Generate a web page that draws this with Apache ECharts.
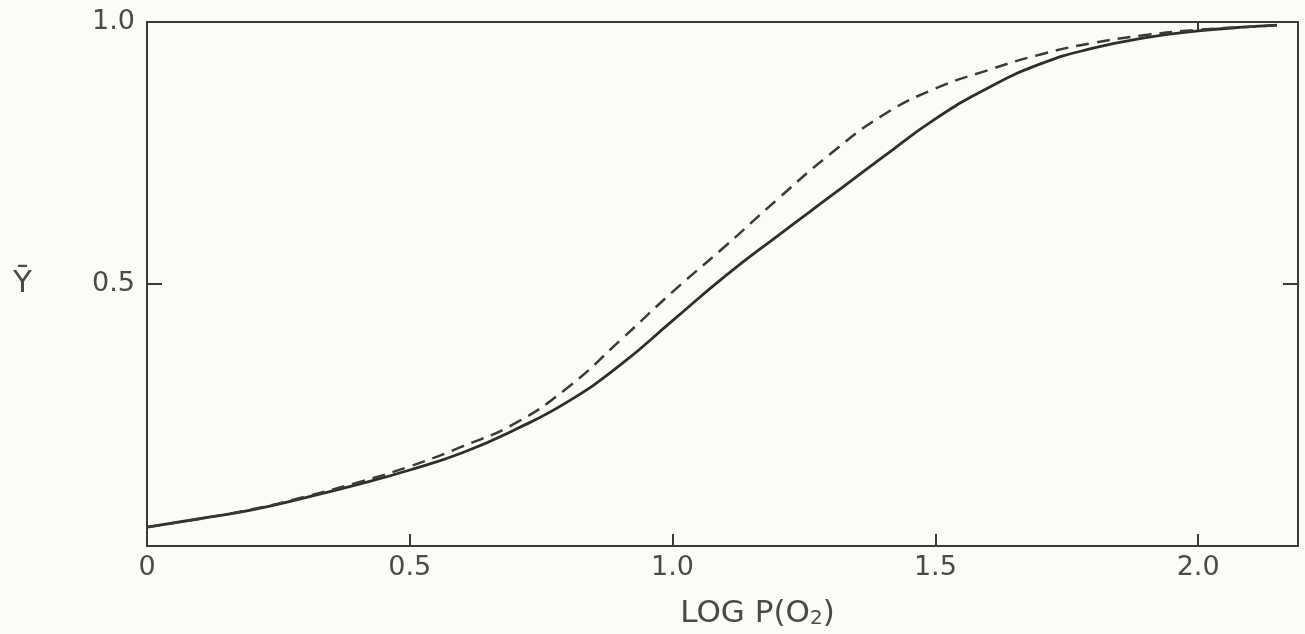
<!DOCTYPE html>
<html lang="en">
<head>
    <meta charset="UTF-8">
    <title>Y vs log P(O2)</title>
    <script src="https://cdn.jsdelivr.net/npm/echarts@6/dist/echarts.min.js"></script>
</head>
<body style="margin:0;background:#fcfbf6;overflow:hidden">

<div id="main" style="width: 100vw;height: 100vh"></div>

<script type="text/javascript">
    // log P(O2)
    var logP = [0, 0.1, 0.2, 0.3, 0.4, 0.5, 0.6, 0.7, 0.8, 0.9, 1.0, 1.1,
        1.2, 1.3, 1.4, 1.5, 1.6, 1.7, 1.8, 1.9, 2.0, 2.1, 2.15];
    // solid curve
    var ySolid = [0.036, 0.052, 0.069, 0.092, 0.117, 0.145, 0.178, 0.222, 0.275, 0.345, 0.43, 0.515,
        0.592, 0.667, 0.742, 0.815, 0.874, 0.920, 0.950, 0.970, 0.983, 0.991, 0.994];
    // dashed curve
    var yDashed = [0.036, 0.052, 0.070, 0.094, 0.121, 0.152, 0.190, 0.234, 0.302, 0.392, 0.485, 0.572,
        0.662, 0.748, 0.822, 0.873, 0.908, 0.938, 0.960, 0.975, 0.985, 0.991, 0.994];
    var xTicks = [0, 0.5, 1.0, 1.5, 2.0];
    var yTicks = [0.5, 1.0];

    function pairs(xs, ys) {
        return xs.map(function (x, i) { return [x, ys[i]]; });
    }

    var ink = '#3a3a3a';
    var font = 'DejaVu Sans';

    var myChart = echarts.init(document.getElementById('main'));

    var option = {
        backgroundColor: '#fcfbf6',
        animation: false,
        grid: {left: 147, right: 7, top: 22, bottom: 87},
        xAxis: [{
            type: 'value',
            min: 0,
            max: 2.19,
            interval: 0.5,
            splitLine: {show: false},
            axisLine: {lineStyle: {color: ink, width: 2}},
            axisTick: {inside: true, length: 12, customValues: [0.5, 1.0, 1.5, 2.0],
                lineStyle: {color: ink, width: 2}},
            axisLabel: {
                customValues: xTicks,
                margin: 8,
                color: '#4a4a4a',
                fontFamily: font,
                fontSize: 27,
                formatter: function (v) { return v === 0 ? '0' : v.toFixed(1); }
            },
            name: 'LOG P(O{sub|2})',
            nameLocation: 'middle',
            nameGap: 52,
            nameTextStyle: {
                color: '#4a4a4a', fontFamily: font, fontSize: 31, padding: [0, 0, 0, 70],
                rich: {sub: {fontSize: 20, color: '#4a4a4a', fontFamily: font, padding: [10, 0, 0, 0]}}
            }
        }, {
            type: 'value',
            position: 'top',
            min: 0,
            max: 2.19,
            interval: 0.5,
            splitLine: {show: false},
            axisLine: {show: true, onZero: false, lineStyle: {color: ink, width: 2}},
            axisTick: {inside: true, length: 10, customValues: [2.0], lineStyle: {color: ink, width: 2}},
            axisLabel: {show: false}
        }],
        yAxis: [{
            type: 'value',
            min: 0,
            max: 1,
            interval: 0.5,
            splitLine: {show: false},
            axisLine: {show: true, lineStyle: {color: ink, width: 2}},
            axisTick: {show: true, inside: true, length: 15, customValues: [0.5],
                lineStyle: {color: ink, width: 2}},
            axisLabel: {
                customValues: yTicks,
                margin: 12,
                color: '#4a4a4a',
                fontFamily: font,
                fontSize: 27,
                formatter: function (v) { return v.toFixed(1); }
            },
            name: 'Ȳ',
            nameLocation: 'middle',
            nameRotate: 0,
            nameGap: 115,
            nameTextStyle: {color: '#4a4a4a', fontFamily: font, fontSize: 31}
        }, {
            type: 'value',
            position: 'right',
            min: 0,
            max: 1,
            interval: 0.5,
            splitLine: {show: false},
            axisLine: {show: true, onZero: false, lineStyle: {color: ink, width: 2}},
            axisTick: {show: true, inside: true, length: 15, customValues: [0.5],
                lineStyle: {color: ink, width: 2}},
            axisLabel: {show: false}
        }],
        series: [
            {
                name: 'solid',
                type: 'line',
                smooth: 0.5,
                showSymbol: false,
                lineStyle: {color: '#2e2e2e', width: 2.8},
                data: pairs(logP, ySolid)
            },
            {
                name: 'dashed',
                type: 'line',
                smooth: 0.5,
                showSymbol: false,
                lineStyle: {color: '#3a3a3a', width: 2.5, type: [13, 8]},
                data: pairs(logP, yDashed)
            }
        ]
    };

    myChart.setOption(option);
</script>
</body>
</html>
